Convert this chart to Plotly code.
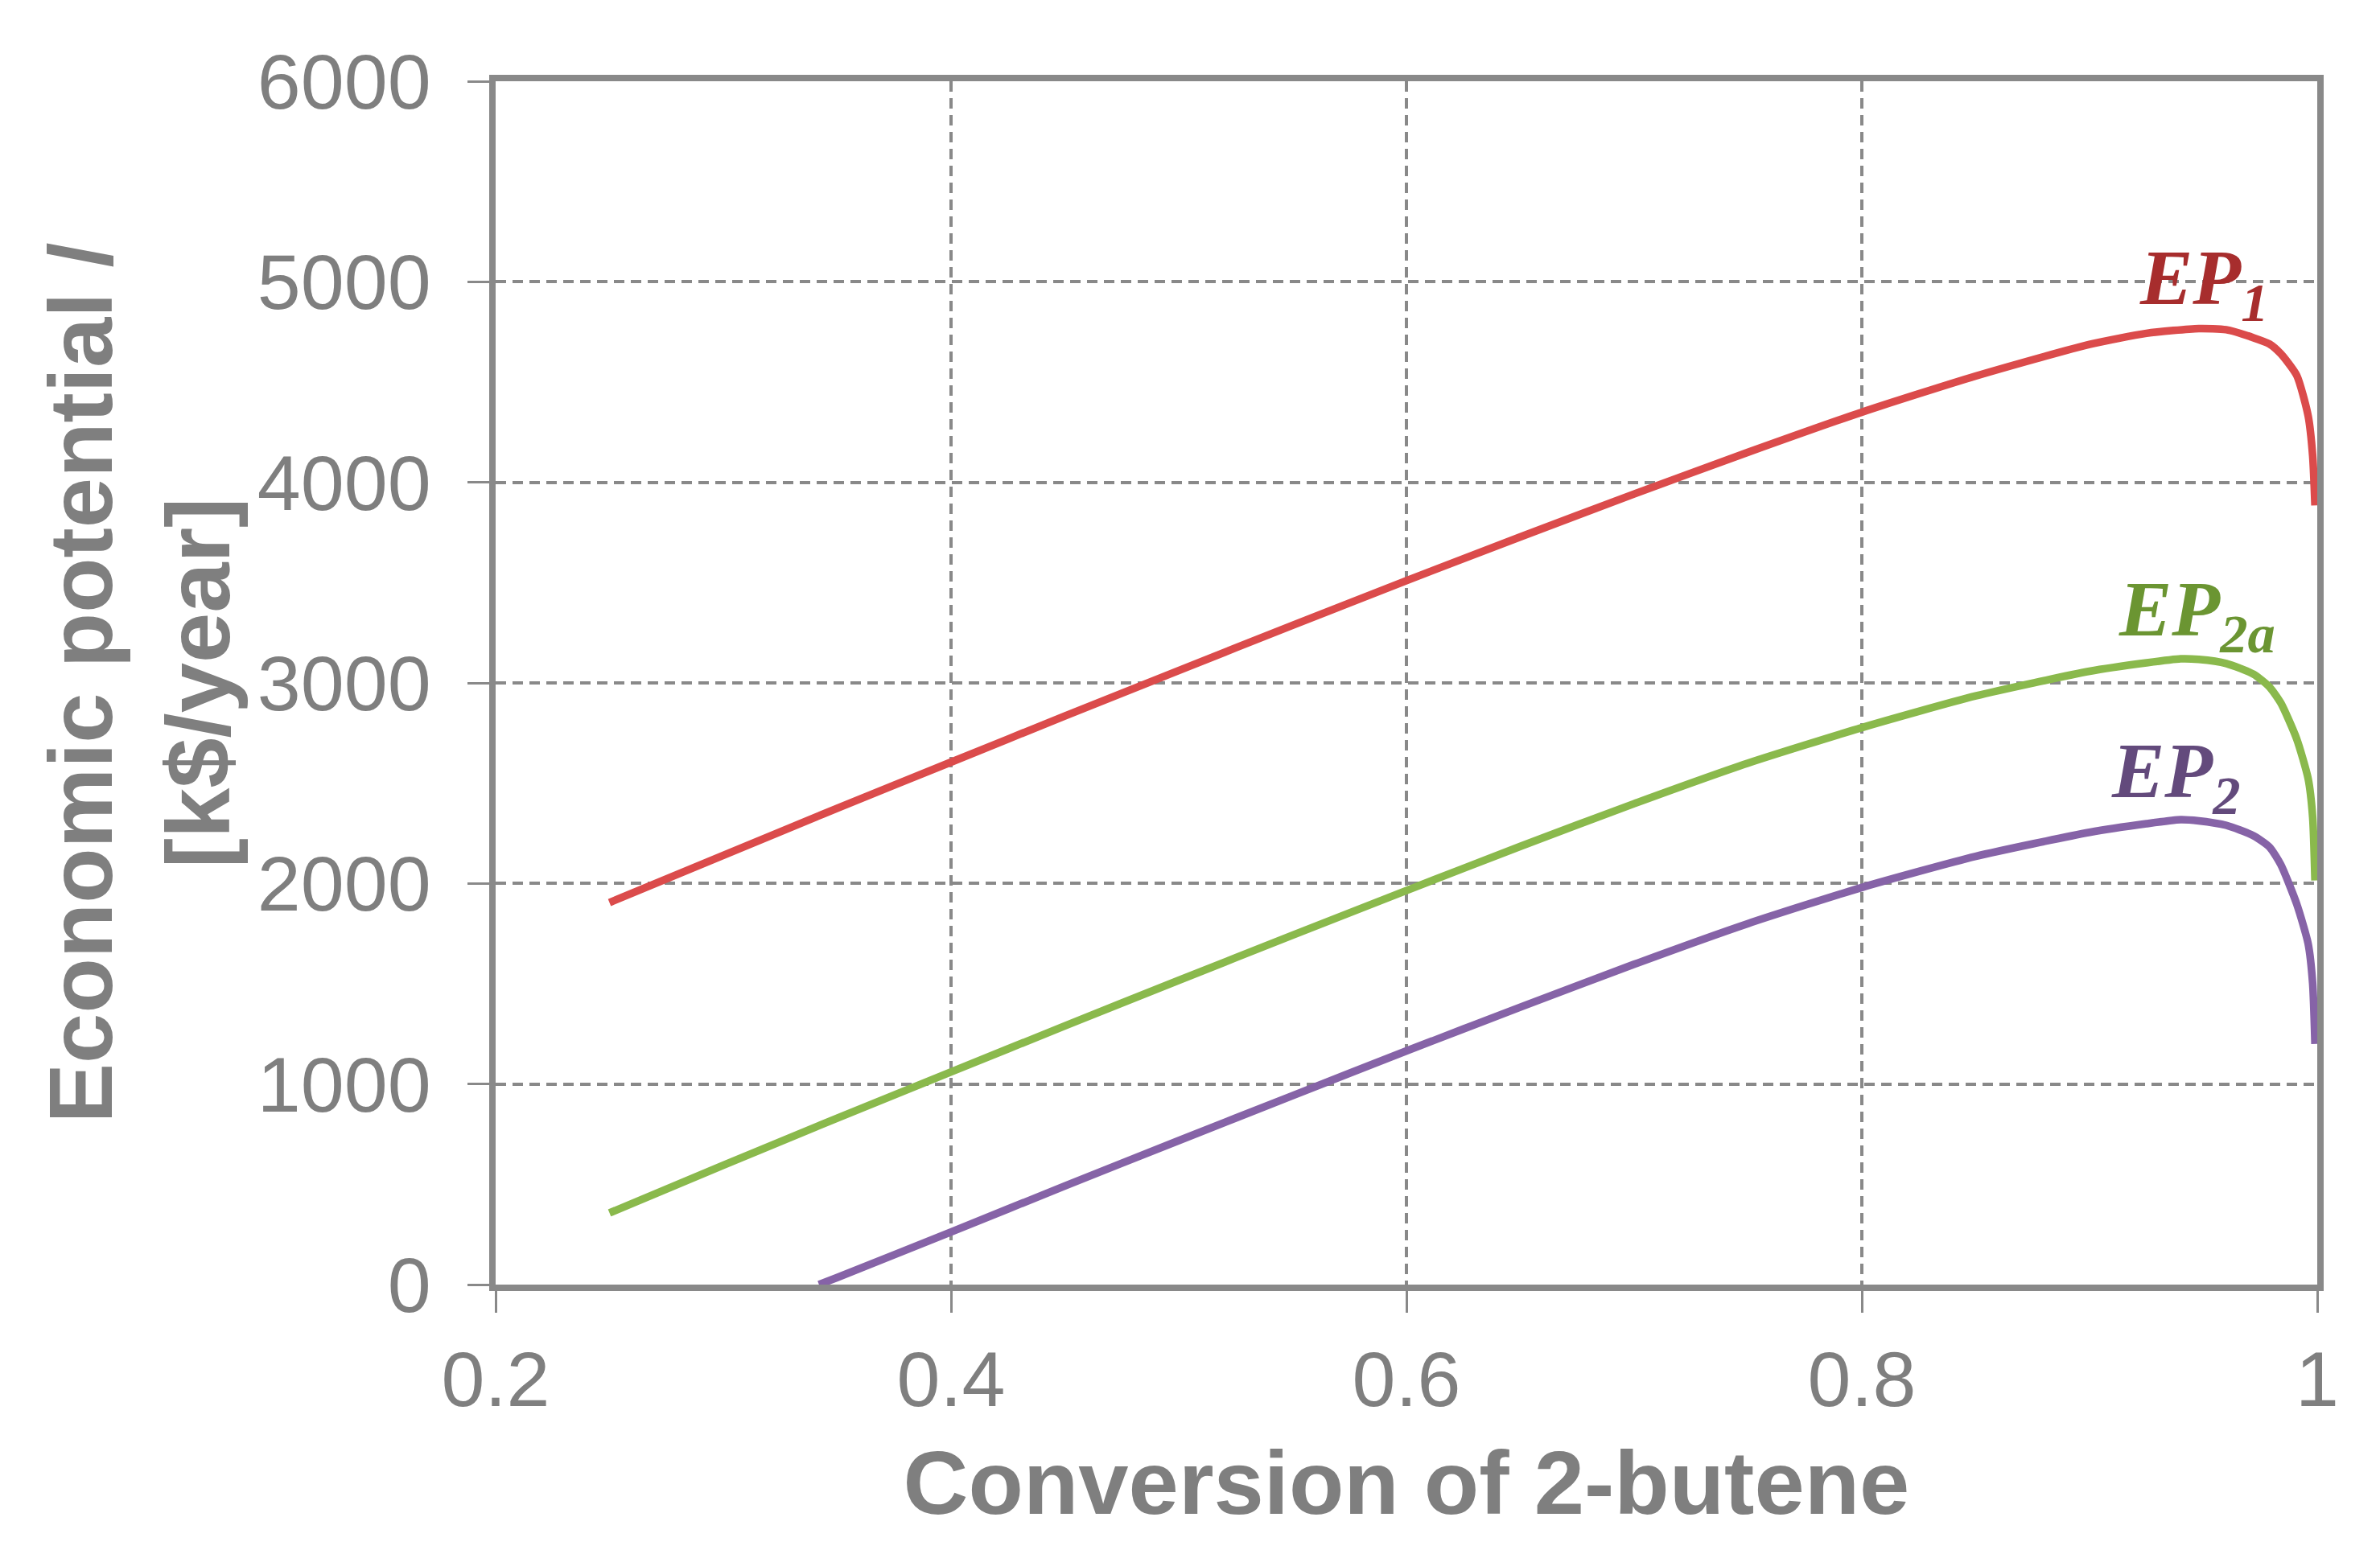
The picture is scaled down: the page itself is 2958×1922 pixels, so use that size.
import plotly.graph_objects as go

# ---- data ----
ep1_x = [0.25, 0.30, 0.35, 0.40, 0.45, 0.50, 0.55, 0.60, 0.65, 0.70, 0.75, 0.80, 0.85, 0.90, 0.925, 0.948, 0.960, 0.972, 0.979, 0.984, 0.991, 0.996, 0.998, 0.999]
ep1_y = [1905, 2140, 2375, 2605, 2835, 3062, 3287, 3510, 3728, 3942, 4150, 4350, 4530, 4688, 4743, 4767, 4761, 4721, 4690, 4641, 4533, 4332, 4132, 3885]

ep2a_x = [0.25, 0.30, 0.35, 0.40, 0.45, 0.50, 0.55, 0.60, 0.65, 0.70, 0.75, 0.80, 0.85, 0.90, 0.925, 0.940, 0.948, 0.960, 0.972, 0.979, 0.984, 0.991, 0.996, 0.998, 0.999]
ep2a_y = [357, 595, 830, 1060, 1290, 1517, 1742, 1965, 2185, 2398, 2600, 2777, 2935, 3058, 3100, 3120, 3117, 3097, 3044, 2980, 2900, 2720, 2523, 2330, 2015]

ep2_x = [0.342, 0.35, 0.40, 0.45, 0.50, 0.55, 0.60, 0.65, 0.70, 0.75, 0.80, 0.85, 0.90, 0.925, 0.940, 0.948, 0.960, 0.972, 0.979, 0.984, 0.991, 0.996, 0.998, 0.999]
ep2_y = [0, 35, 262, 492, 718, 942, 1165, 1383, 1597, 1800, 1980, 2135, 2255, 2298, 2318, 2312, 2290, 2238, 2182, 2094, 1897, 1700, 1500, 1200]

x_ticks = [0.2, 0.4, 0.6, 0.8, 1.0]
x_tick_text = ["0.2", "0.4", "0.6", "0.8", "1"]
y_ticks = [0, 1000, 2000, 3000, 4000, 5000, 6000]
y_tick_text = ["0", "1000", "2000", "3000", "4000", "5000", "6000"]

labels = ["EP<sub>1</sub>", "EP<sub>2a</sub>", "EP<sub>2</sub>"]
label_x = [0.9503, 0.9470, 0.9380]
label_y = [4990, 3337, 2531]

line_colors = ["#DB4B4B", "#8AB94C", "#8663A7"]
text_colors = ["#A72D2D", "#6B9532", "#634A7C"]

AX = "#898989"
TXT = "#7F7F7F"

fig = go.Figure()
for xs, ys, c in [(ep1_x, ep1_y, line_colors[0]), (ep2a_x, ep2a_y, line_colors[1]), (ep2_x, ep2_y, line_colors[2])]:
    fig.add_trace(go.Scatter(x=xs, y=ys, mode="lines",
                             line=dict(color=c, width=9.5, shape="spline", smoothing=0.6),
                             showlegend=False))

for t, lx, ly, tc in zip(labels, label_x, label_y, text_colors):
    fig.add_annotation(x=lx, y=ly, text=t, showarrow=False, xanchor="center", yanchor="middle",
                       font=dict(family="Liberation Serif", size=98, color=tc, weight="bold", style="italic"))

fig.update_layout(
    width=2958, height=1922,
    margin=dict(l=608, r=86, t=93, b=333),
    plot_bgcolor="white", paper_bgcolor="white",
    showlegend=False,
    font=dict(family="Liberation Sans", color=TXT),
)
fig.update_xaxes(
    range=[0.2, 1.0], tickmode="array", tickvals=x_ticks, ticktext=x_tick_text,
    showline=True, linewidth=8, linecolor=AX, mirror=True,
    ticks="outside", ticklen=27, tickwidth=3, tickcolor=AX,
    showgrid=True, gridcolor=AX, gridwidth=4, griddash="13px,8px", zeroline=False,
    tickfont=dict(family="Liberation Sans", size=97, color=TXT),
    title=dict(text="<b>Conversion of 2-butene</b>", font=dict(family="Liberation Sans", size=112, color=TXT), standoff=38),
)
fig.update_yaxes(
    range=[0, 6000], tickmode="array", tickvals=y_ticks, ticktext=y_tick_text,
    showline=True, linewidth=8, linecolor=AX, mirror=True,
    ticks="outside", ticklen=27, tickwidth=3, tickcolor=AX, ticklabelstandoff=26,
    showgrid=True, gridcolor=AX, gridwidth=4, griddash="13px,8px", zeroline=False,
    tickfont=dict(family="Liberation Sans", size=97, color=TXT),
    title=dict(text="<b>Economic potential /<br>[k$/year]</b>", font=dict(family="Liberation Sans", size=112, color=TXT), standoff=0),
)

fig.write_html("out.html")
